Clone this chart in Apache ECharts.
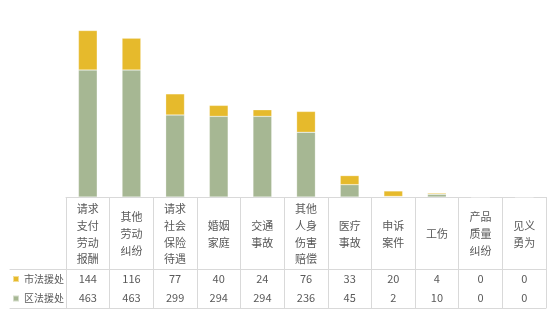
<!DOCTYPE html>
<html>
<head>
<meta charset="utf-8">
<script src="https://cdn.jsdelivr.net/npm/echarts@6/dist/echarts.min.js"></script>
<style>html,body{margin:0;padding:0;background:#fff}#c{width:553px;height:312px}</style>
</head>
<body>
<div id="c"></div>
<script>
var categories = ['请求支付劳动报酬','其他劳动纠纷','请求社会保险待遇','婚姻家庭','交通事故','其他人身伤害赔偿','医疗事故','申诉案件','工伤','产品质量纠纷','见义勇为'];
var cityVals = [144, 116, 77, 40, 24, 76, 33, 20, 4, 0, 0];
var districtVals = [463, 463, 299, 294, 294, 236, 45, 2, 10, 0, 0];
var seriesNames = ['市法援处', '区法援处'];

var FONT = '"Noto Sans CJK SC", "Noto Sans", sans-serif';
var TXT = '#595959';
var LINE = '#d9d9d9';
var YELLOW = '#E6BA2C';
var GREEN = '#A6B793';

function splitTwo(s) {
  var out = [];
  for (var i = 0; i < s.length; i += 2) out.push(s.slice(i, i + 2));
  return out.join('\n');
}

function rowLine(position, offset) {
  return {
    gridIndex: 1, type: 'category', data: [''], position: position, offset: offset,
    axisLine: {show: true, onZero: false, lineStyle: {color: LINE, width: 1}},
    axisTick: {show: false}, axisLabel: {show: false}, splitLine: {show: false}
  };
}

var chart = echarts.init(document.getElementById('c'), null, {renderer: 'canvas'});
chart.setOption({
  animation: false,
  textStyle: {fontFamily: FONT},
  grid: [
    {left: 66, right: 7, top: 5, bottom: 115},
    {left: 10, right: 7, top: 269, bottom: 4}
  ],
  legend: {
    data: seriesNames,
    orient: 'vertical',
    left: 12,
    top: 272,
    padding: 0,
    itemWidth: 6,
    itemHeight: 6,
    itemGap: 5.5,
    icon: 'rect',
    selectedMode: false,
    textStyle: {fontSize: 10, color: TXT, lineHeight: 14, fontFamily: FONT}
  },
  xAxis: [
    {
      gridIndex: 0, type: 'category', data: categories, position: 'bottom',
      axisLine: {show: true, onZero: false, lineStyle: {color: LINE, width: 1}},
      axisTick: {show: true, length: 111, lineStyle: {color: LINE, width: 1}},
      axisLabel: {
        interval: 0, margin: 37, verticalAlign: 'middle',
        color: TXT, fontSize: 11, lineHeight: 16.7, fontFamily: FONT,
        formatter: function (v) { return splitTwo(v); }
      }
    },
    {
      gridIndex: 0, type: 'category', data: categories, position: 'bottom', offset: 72,
      axisLine: {show: false, onZero: false}, axisTick: {show: false},
      axisLabel: {
        interval: 0, margin: 10, verticalAlign: 'middle',
        color: TXT, fontSize: 11, fontFamily: FONT,
        formatter: function (v, i) { return String(cityVals[i]); }
      }
    },
    {
      gridIndex: 0, type: 'category', data: categories, position: 'bottom', offset: 92,
      axisLine: {show: false, onZero: false}, axisTick: {show: false},
      axisLabel: {
        interval: 0, margin: 9, verticalAlign: 'middle',
        color: TXT, fontSize: 11, fontFamily: FONT,
        formatter: function (v, i) { return String(districtVals[i]); }
      }
    },
    rowLine('top', 0),
    rowLine('bottom', 0),
    rowLine('bottom', 19)
  ],
  yAxis: [
    {gridIndex: 0, type: 'value', min: 0, max: 700, interval: 100, show: false, splitLine: {show: false}},
    {gridIndex: 1, type: 'value', min: 0, max: 1, show: false, splitLine: {show: false}}
  ],
  series: [
    {
      name: seriesNames[1], type: 'bar', stack: 'total', xAxisIndex: 0, yAxisIndex: 0,
      data: districtVals, barCategoryGap: '57%',
      itemStyle: {color: GREEN, borderColor: 'rgba(255,255,255,0.5)', borderWidth: 0.5}
    },
    {
      name: seriesNames[0], type: 'bar', stack: 'total', xAxisIndex: 0, yAxisIndex: 0,
      data: cityVals, barCategoryGap: '57%',
      itemStyle: {color: YELLOW, borderColor: 'rgba(255,255,255,0.5)', borderWidth: 0.5}
    }
  ]
});
</script>
</body>
</html>
